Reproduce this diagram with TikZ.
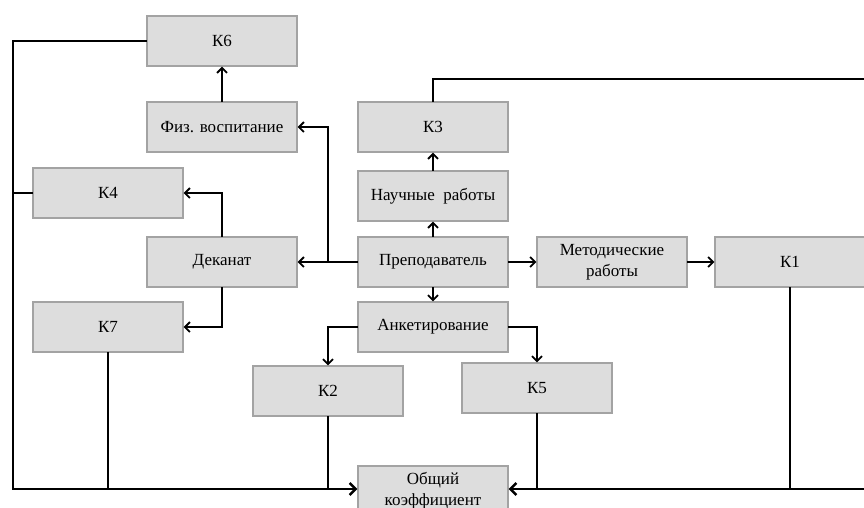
\documentclass[tikz,border=0pt]{standalone}
\usepackage{fontspec}
\setmainfont{Liberation Serif}
\usetikzlibrary{arrows.meta}
\definecolor{boxfill}{HTML}{DDDDDD}
\definecolor{boxline}{HTML}{A3A3A3}
\begin{document}
\begin{tikzpicture}[x=1pt,y=-1pt,
  block/.style={draw=boxline,fill=boxfill,line width=1.4pt,minimum width=150pt,
    minimum height=50pt,inner sep=2pt,align=center,
    font=\fontsize{17}{21}\selectfont},
  link/.style={line width=2pt,line cap=rect},
  arr/.style={link,-{Straight Barb[length=5pt,width=10pt,line width=1.8pt]}},
  bus/.style={line width=2.8pt},
  busarr/.style={bus,-{Straight Barb[length=6pt,width=12pt,line width=2.4pt]}}]
\path[use as bounding box,clip] (0,0) rectangle (864,507);

% blocks
\node[block] (k6)   at (222,41)    {К6};
\node[block] (fiz)  at (222,127)   {Физ. воспитание};
\node[block] (k3)   at (433,127)   {К3};
\node[block] (nauch) at (433,196)  {Научные\ \ работы};
\node[block] (prep) at (433,262)   {Преподаватель};
\node[block] (met)  at (612,262)   {Методические\\работы};
\node[block] (k1)   at (790,262)   {К1};
\node[block] (k4)   at (108,193)   {К4};
\node[block] (dek)  at (222,262)   {Деканат};
\node[block] (k7)   at (108,327)   {К7};
\node[block] (ank)  at (433,327)   {Анкетирование};
\node[block] (k2)   at (328,391)   {К2};
\node[block] (k5)   at (537,388)   {К5};
\node[block] (obs)  at (433,491)   {Общий\\коэффициент};

% junction and bus points
\coordinate (jp)   at (328,262);
\coordinate (busL) at (13,489);
\coordinate (busR) at (900,79);

% teacher branches
\draw[arr] (prep.north) -- (nauch.south);
\draw[arr] (nauch.north) -- (k3.south);
\draw[arr] (prep.east) -- (met.west);
\draw[arr] (met.east) -- (k1.west);
\draw[arr] (prep.south) -- (ank.north);
\draw[arr] (prep.west) -- (dek.east);
\draw[arr] (jp) |- (fiz.east);
\draw[arr] (fiz.north) -- (k6.south);
\draw[arr] (dek.north) |- (k4.east);
\draw[arr] (dek.south) |- (k7.east);
\draw[arr] (ank.west) -| (k2.north);
\draw[arr] (ank.east) -| (k5.north);

% collecting lines into the total coefficient
\draw[link] (k6.west) -| (busL);
\draw[link] (k4.west) -- (k4.west -| busL);
\draw[link] (k7.south) -- (k7.south |- busL);
\draw[link] (k2.south) -- (k2.south |- busL);
\draw[busarr] (busL) -- (busL -| obs.west);
\draw[link] (k3.north) |- (busR) -- (busR |- busL);
\draw[link] (k1.south) -- (k1.south |- busL);
\draw[link] (k5.south) -- (k5.south |- busL);
\draw[busarr] (busR |- busL) -- (busL -| obs.east);
\end{tikzpicture}
\end{document}
